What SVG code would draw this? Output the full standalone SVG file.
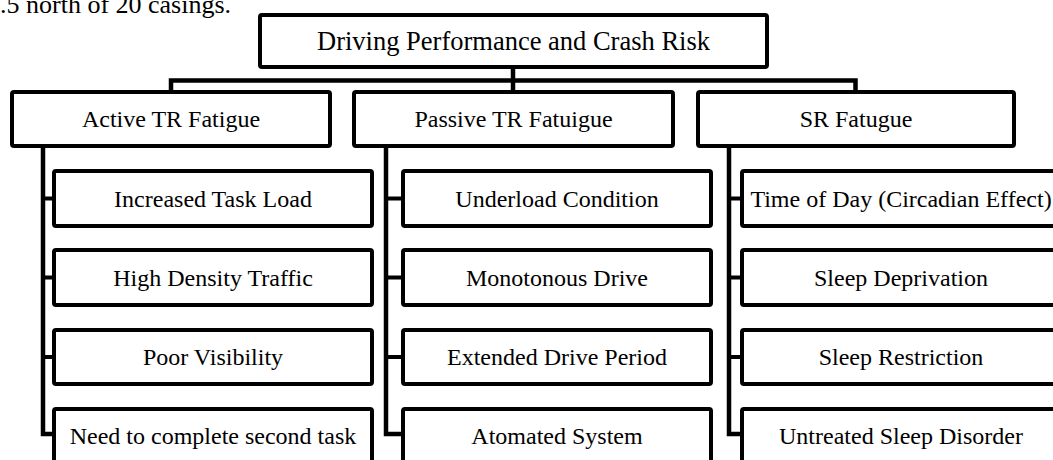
<svg xmlns="http://www.w3.org/2000/svg" width="1053" height="460" viewBox="0 0 1053 460">
  <style>
    .box { fill: #ffffff; stroke: #000000; stroke-width: 4; }
    .conn { fill: none; stroke: #000000; stroke-width: 4.5; stroke-linejoin: miter; stroke-linecap: square; }
    .stub { fill: none; stroke: #000000; stroke-width: 4; }
    text { font-family: "Liberation Serif", "Times New Roman", serif; fill: #000000; text-anchor: middle; }
    .t1 { font-size: 24px; }
    .t0 { font-size: 26.5px; }
  </style>
  <rect x="0" y="0" width="1053" height="460" fill="#ffffff"/>
  <text x="0" y="13" style="font-size:26px;text-anchor:start">.5 north of 20 casings.</text>

  <g id="connectors">
    <path class="conn" d="M171,92 V80.5 H855.5 V92"/>
    <path class="conn" d="M513,67 V92"/>
    <path class="conn" d="M43,146 V434 H54"/>
    <path class="stub" d="M43,198.5 H54 M43,277.5 H54 M43,357 H54"/>
    <path class="conn" d="M386,146 V434 H403"/>
    <path class="stub" d="M386,198.5 H403 M386,277.5 H403 M386,357 H403"/>
    <path class="conn" d="M729,146 V434 H742"/>
    <path class="stub" d="M729,198.5 H742 M729,277.5 H742 M729,357 H742"/>
  </g>

  <g id="root">
    <rect class="box" x="260" y="15" width="507" height="52" rx="2"/>
    <text class="t0" x="513.5" y="50">Driving Performance and Crash Risk</text>
  </g>

  <g id="active">
    <rect class="box" x="12" y="92" width="318" height="54" rx="2"/>
    <text class="t1" x="171" y="127">Active TR Fatigue</text>
  </g>
  <g id="passive">
    <rect class="box" x="354" y="92" width="319" height="54" rx="2"/>
    <text class="t1" x="513.5" y="127">Passive TR Fatuigue</text>
  </g>
  <g id="sr">
    <rect class="box" x="698" y="92" width="316" height="54" rx="2"/>
    <text class="t1" x="856" y="127">SR Fatugue</text>
  </g>

  <g id="a1"><rect class="box" x="54" y="171" width="318" height="55" rx="2"/><text class="t1" x="213" y="206.5">Increased Task Load</text></g>
  <g id="a2"><rect class="box" x="54" y="250" width="318" height="55" rx="2"/><text class="t1" x="213" y="285.5">High Density Traffic</text></g>
  <g id="a3"><rect class="box" x="54" y="330" width="318" height="54" rx="2"/><text class="t1" x="213" y="365">Poor Visibility</text></g>
  <g id="a4"><rect class="box" x="54" y="409" width="318" height="55" rx="2"/><text class="t1" x="213" y="444">Need to complete second task</text></g>

  <g id="p1"><rect class="box" x="403" y="171" width="308" height="55" rx="2"/><text class="t1" x="557" y="206.5">Underload Condition</text></g>
  <g id="p2"><rect class="box" x="403" y="250" width="308" height="55" rx="2"/><text class="t1" x="557" y="285.5">Monotonous Drive</text></g>
  <g id="p3"><rect class="box" x="403" y="330" width="308" height="54" rx="2"/><text class="t1" x="557" y="365">Extended Drive Period</text></g>
  <g id="p4"><rect class="box" x="403" y="409" width="308" height="55" rx="2"/><text class="t1" x="557" y="444">Atomated System</text></g>

  <g id="s1"><rect class="box" x="742" y="171" width="318" height="55" rx="2"/><text class="t1" x="901" y="206.5">Time of Day (Circadian Effect)</text></g>
  <g id="s2"><rect class="box" x="742" y="250" width="318" height="55" rx="2"/><text class="t1" x="901" y="285.5">Sleep Deprivation</text></g>
  <g id="s3"><rect class="box" x="742" y="330" width="318" height="54" rx="2"/><text class="t1" x="901" y="365">Sleep Restriction</text></g>
  <g id="s4"><rect class="box" x="742" y="409" width="318" height="55" rx="2"/><text class="t1" x="901" y="444">Untreated Sleep Disorder</text></g>
</svg>
